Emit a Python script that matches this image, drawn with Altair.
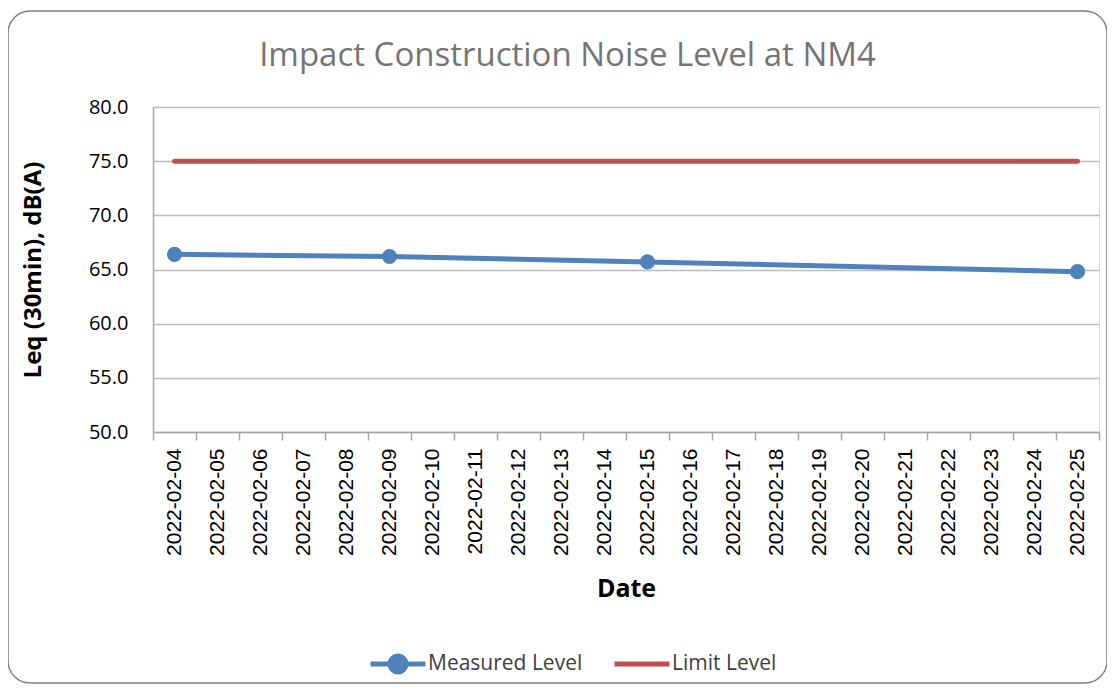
import altair as alt
import pandas as pd

dates = [f"2022-02-{d:02d}" for d in range(4, 26)]
measured_dates = ["2022-02-04", "2022-02-09", "2022-02-15", "2022-02-25"]
measured_values = [66.4, 66.2, 65.7, 64.8]
limit_value = 75.0
title_text = "Impact Construction Noise Level at NM4"

measured_df = pd.DataFrame({"date": measured_dates, "leq": measured_values, "series": "Measured Level"})
limit_df = pd.DataFrame({"date": dates, "leq": [limit_value] * len(dates), "series": "Limit Level"})

BLUE = "#4f81bd"
RED = "#c0504d"
TXT_FONT = "Open Sans"
LBL_FONT = "Liberation Sans"

W, H = 946, 325

x_enc = alt.X(
    "date:O",
    scale=alt.Scale(domain=dates, paddingInner=0, paddingOuter=0),
    axis=alt.Axis(
        title="Date",
        labelAngle=-90,
        labelFont=LBL_FONT,
        labelFontSize=21,
        labelColor="#000000",
        labelPadding=8,
        tickBand="extent",
        tickSize=8,
        tickColor="#a6a6a6",
        tickWidth=1.5,
        domainColor="#a6a6a6",
        domainWidth=1.5,
        grid=False,
        titleFont=TXT_FONT,
        titleFontSize=25,
        titleFontWeight="bold",
        titleColor="#000000",
        titleBaseline="middle",
        titleY=156,
    ),
)
y_enc = alt.Y(
    "leq:Q",
    scale=alt.Scale(domain=[50, 80], nice=False, zero=False),
    axis=alt.Axis(
        title="Leq (30min), dB(A)",
        values=[50, 55, 60, 65, 70, 75, 80],
        format=".1f",
        labelFont=TXT_FONT,
        labelFontSize=20,
        labelColor="#000000",
        labelPadding=25,
        ticks=False,
        domainColor="#a6a6a6",
        domainWidth=1.5,
        gridColor="#bcbcbc",
        gridWidth=1.3,
        titleFont=TXT_FONT,
        titleFontSize=24,
        titleFontWeight="bold",
        titleColor="#000000",
        titleBaseline="middle",
        titleX=-120,
        titleY=H / 2,
        titleAngle=-90,
    ),
)

frame = alt.Chart(alt.Data(values=[{}])).mark_rect(
    fill=None, stroke="#7f7f7f", strokeWidth=1.5, cornerRadius=22, clip=False
).encode(
    x=alt.value(-145), x2=alt.value(954), y=alt.value(-96), y2=alt.value(576)
)

title_mark = alt.Chart(alt.Data(values=[{"t": title_text}])).mark_text(
    font=TXT_FONT, fontSize=33, color="#757575", baseline="middle", align="center", clip=False
).encode(
    text="t:N", x=alt.value(414.5), y=alt.value(-51)
)

limit_line = alt.Chart(limit_df).mark_line(strokeWidth=5, strokeCap="round").encode(
    x=x_enc,
    y=y_enc,
    color=alt.Color(
        "series:N",
        scale=alt.Scale(domain=["Limit Level"], range=[RED]),
        legend=alt.Legend(
            title=None,
            orient="none",
            legendX=459,
            legendY=527,
            symbolType="M-1,0H1",
            symbolSize=3025,
            symbolStrokeWidth=5,
            labelFont=TXT_FONT,
            labelFontSize=21,
            labelColor="#404040",
            labelOffset=0,
            padding=0,
        ),
    ),
)

measured_line = alt.Chart(measured_df).mark_line(strokeWidth=5, strokeCap="round").encode(
    x=x_enc,
    y=y_enc,
    color=alt.Color(
        "series:N",
        scale=alt.Scale(domain=["Measured Level"], range=[BLUE]),
        legend=alt.Legend(
            title=None,
            orient="none",
            legendX=215,
            legendY=527,
            symbolType="M-1,0H1M-0.29,0A0.29,0.29,0,1,1,0.29,0A0.29,0.29,0,1,1,-0.29,0Z",
            symbolSize=3025,
            symbolStrokeWidth=5,
            symbolFillColor=BLUE,
            labelFont=TXT_FONT,
            labelFontSize=21,
            labelColor="#404040",
            labelOffset=0,
            padding=0,
        ),
    ),
)

measured_pts = alt.Chart(measured_df).mark_point(filled=True, size=230, opacity=1).encode(
    x=x_enc, y=y_enc, color=alt.value(BLUE)
)

chart = (
    alt.layer(frame, title_mark, limit_line, measured_line, measured_pts)
    .resolve_scale(color="independent")
    .properties(
        width=W,
        height=H,
        autosize=alt.AutoSizeParams(type="none"),
        padding={"left": 145, "top": 99, "right": 8, "bottom": 252},
    )
    .configure_view(stroke=None)
    .configure(background="white")
)

chart.save("out.html", embed_options={"renderer": "svg", "actions": False})
